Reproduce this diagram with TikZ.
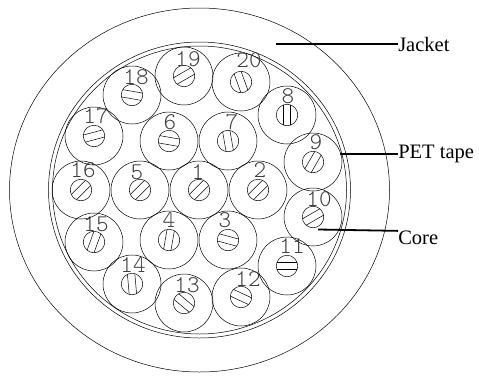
\documentclass[tikz,border=0pt]{standalone}
\usepackage{fontspec}
\setmainfont{Liberation Serif}
\usetikzlibrary{shapes, positioning}
\tikzset{
    strand/.style={circle, draw, minimum size=58pt, inner sep=0pt},
    wire/.style={circle, draw, minimum size=21.5pt, inner sep=0pt},
    num/.style={inner sep=0pt, text=black!75, font=\fontsize{24}{24}\fontseries{l}\ttfamily},
    tag/.style={inner sep=0pt, anchor=west, font=\fontsize{20.5}{21}\selectfont},
    leader/.style={line width=1.8pt}
}

\begin{document}
\begin{tikzpicture}[x=1pt, y=-1pt, line width=0.5pt]
    \useasboundingbox (0,0) rectangle (479,378);

    % jacket and tape
    \node[draw, ellipse, minimum width=380pt, minimum height=364pt, inner sep=0pt] (jacketring) at (199.5,190) {};
    \node[draw, ellipse, minimum width=302pt, minimum height=296pt, inner sep=0pt] (tapeouter) at (199.5,190) {};
    \node[draw, ellipse, minimum width=294pt, minimum height=288pt, inner sep=0pt] (tapeinner) at (199.5,190) {};

    % number / centre / stripe angle / label
    \foreach \n/\x/\y/\a/\lx/\ly in {
        1/199/190/45/198/172, 2/258/190/45/260/170, 3/228/240/-15/225/220,
        4/169/240/80/169/220, 5/140/190/45/137/172, 6/169/141/-10/170/122,
        7/228/141/100/232/122, 8/287/115/90/288/96, 9/313/162/60/316/142,
        10/313/217/30/319/199, 11/287/266/0/292/246, 12/241/297/-25/248/279,
        13/184/303/-40/187/285, 14/132/284/95/133/265, 15/94/242/70/96/224,
        16/81/190/45/83/170, 17/94/136/15/96/116, 18/132/95/-10/136/77,
        19/184/76/30/188/59, 20/241/82/110/249/60} {
        \node[strand] (s\n) at (\x,\y) {};
        \node[wire] (w\n) at (\x,\y) {};
        \draw[shift={(\x,\y)}, rotate=\a] (-10,3.7) -- (10,3.7) (-10,-3.7) -- (10,-3.7);
        \node[num] (n\n) at (\lx,\ly) {\n};
    }

    % labels
    \node[tag] (jacket) at (398,44) {Jacket};
    \node[tag] (pet) at (398,154) {PET tape};
    \node[tag] (core) at (398,238) {Core};

    \coordinate (jacketend) at (276,44);
    \coordinate (petend) at (340,154);
    \coordinate (coreend) at (318,229.5);

    \draw[leader] (jacketend) -- (jacket.west);
    \draw[leader] (petend) -- (pet.west);
    \draw[leader] (coreend) -- (core.north west);
\end{tikzpicture}
\end{document}
